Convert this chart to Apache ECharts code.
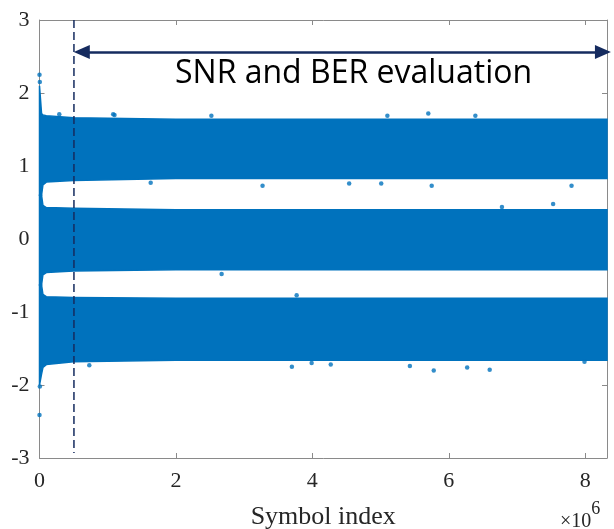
<!DOCTYPE html>
<html><head><meta charset="utf-8">
<script src="https://cdn.jsdelivr.net/npm/echarts@6/dist/echarts.min.js"></script>
<style>html,body{margin:0;padding:0;background:#fff}#c{width:614px;height:529px}</style>
</head><body><div id="c"></div>
<script>
// x in units of 1e6 symbols
const xTicks = [0, 2, 4, 6, 8];
const yTicks = [-3, -2, -1, 0, 1, 2, 3];
const edgeX    = [0,    0.03, 0.05, 0.1,  0.5,  2,    4,    6,    8.32];
const topUpper = [2.10, 1.72, 1.70, 1.69, 1.66, 1.64, 1.64, 1.64, 1.64];
const topLower = [0.60, 0.60, 0.74, 0.78, 0.80, 0.83, 0.83, 0.83, 0.83];
const midUpper = [0.60, 0.60, 0.46, 0.43, 0.42, 0.40, 0.40, 0.40, 0.40];
const midLower = [-0.63,-0.63,-0.49,-0.46,-0.44,-0.42,-0.42,-0.42,-0.42];
const botUpper = [-0.63,-0.63,-0.76,-0.79,-0.80,-0.81,-0.81,-0.81,-0.81];
const botLower = [-2.00,-1.85,-1.76,-1.72,-1.68,-1.66,-1.66,-1.66,-1.66];
const outliers = [
  [0.0, 2.25], [0.005, 2.15], [0.0, -2.41], [0.005, -2.02],
  [0.29, 1.71], [1.10, 1.70], [1.08, 1.71], [2.52, 1.69], [5.10, 1.69], [5.70, 1.72], [6.39, 1.69],
  [1.63, 0.77], [3.27, 0.73], [4.54, 0.76], [5.01, 0.76], [5.75, 0.73], [7.80, 0.73],
  [6.78, 0.44], [7.53, 0.48],
  [2.67, -0.48], [3.77, -0.77],
  [0.73, -1.73], [3.70, -1.75], [3.99, -1.70], [4.27, -1.72], [5.43, -1.74], [5.78, -1.80],
  [6.27, -1.76], [6.60, -1.79], [7.99, -1.68]
];
const evalStart = 0.505;
const evalLineBottom = -2.93;
const arrowY = 2.56;
const arrowX = [0.62, 8.26];
const xMax = 8.32;

const bands = [
  {hi: topUpper, lo: topLower},
  {hi: midUpper, lo: midLower},
  {hi: botUpper, lo: botLower}
];
const BLUE = '#0072BD';
const NAVY = '#152b5f';
const AX = '#8a8a8a';
const LBL = '#262626';
const SERIF = 'Liberation Serif';

const chart = echarts.init(document.getElementById('c'));
const axisLine = () => ({show: true, onZero: false, lineStyle: {color: AX, width: 1}});
const axisTick = () => ({show: true, inside: true, length: 5, lineStyle: {color: AX}});
chart.setOption({
  animation: false,
  backgroundColor: '#fff',
  textStyle: {fontFamily: SERIF},
  grid: {left: 39.5, right: 7, top: 20, bottom: 71, outerBoundsMode: 'none'},
  xAxis: [
    {type: 'value', min: 0, max: xMax, interval: 2, position: 'bottom',
      axisLine: axisLine(), axisTick: axisTick(), splitLine: {show: false},
      axisLabel: {color: LBL, fontFamily: SERIF, fontSize: 22, margin: 12,
        formatter: v => xTicks.includes(v) ? String(v) : ''},
      name: 'Symbol index', nameLocation: 'middle', nameGap: 46,
      nameTextStyle: {color: LBL, fontFamily: SERIF, fontSize: 26}},
    {type: 'value', min: 0, max: xMax, interval: 2, position: 'top',
      axisLine: axisLine(), axisTick: axisTick(), splitLine: {show: false},
      axisLabel: {show: false}}
  ],
  yAxis: [
    {type: 'value', min: -3, max: 3, interval: 1, position: 'left',
      axisLine: axisLine(), axisTick: axisTick(), splitLine: {show: false},
      axisLabel: {color: LBL, fontFamily: SERIF, fontSize: 22, margin: 10,
        formatter: v => yTicks.includes(v) ? String(v) : ''}},
    {type: 'value', min: -3, max: 3, interval: 1, position: 'right',
      axisLine: axisLine(), axisTick: axisTick(), splitLine: {show: false},
      axisLabel: {show: false}}
  ],
  series: [
    {
      type: 'custom',
      data: bands.map((b, i) => [i, 0]),
      encode: {x: 0, y: 1},
      renderItem: function (params, api) {
        const b = bands[params.dataIndex];
        const pts = [];
        for (let i = 0; i < edgeX.length; i++) pts.push(api.coord([edgeX[i], b.hi[i]]));
        for (let i = edgeX.length - 1; i >= 0; i--) pts.push(api.coord([edgeX[i], b.lo[i]]));
        return {type: 'polygon', shape: {points: pts},
          style: {fill: BLUE, stroke: BLUE, lineWidth: 1.5}};
      },
      silent: true
    },
    {
      type: 'scatter', data: outliers, symbolSize: 4.5,
      itemStyle: {color: BLUE}, silent: true
    },
    {
      type: 'line', data: [[evalStart, 3], [evalStart, evalLineBottom]],
      showSymbol: false, clip: false,
      lineStyle: {color: NAVY, width: 1.5, type: [8, 4]},
      markLine: {
        symbol: ['triangle', 'triangle'], symbolSize: [14, 16],
        label: {show: false},
        lineStyle: {color: NAVY, width: 2.5, type: 'solid'},
        data: [[{coord: [arrowX[0], arrowY]}, {coord: [arrowX[1], arrowY]}]]
      }
    }
  ],
  graphic: [
    {type: 'text', left: 175, top: 58, silent: true,
      style: {text: 'SNR and BER evaluation', fill: '#000', font: '32px "Open Sans", sans-serif'}},
    {type: 'text', left: 560, top: 500, silent: true,
      style: {text: '{a|×10}{b|6}', rich: {
        a: {fontFamily: SERIF, fontSize: 20, fill: LBL, padding: [12, 0, 0, 0]},
        b: {fontFamily: SERIF, fontSize: 18, fill: LBL, verticalAlign: 'top'}}}}
  ]
});
</script></body></html>
